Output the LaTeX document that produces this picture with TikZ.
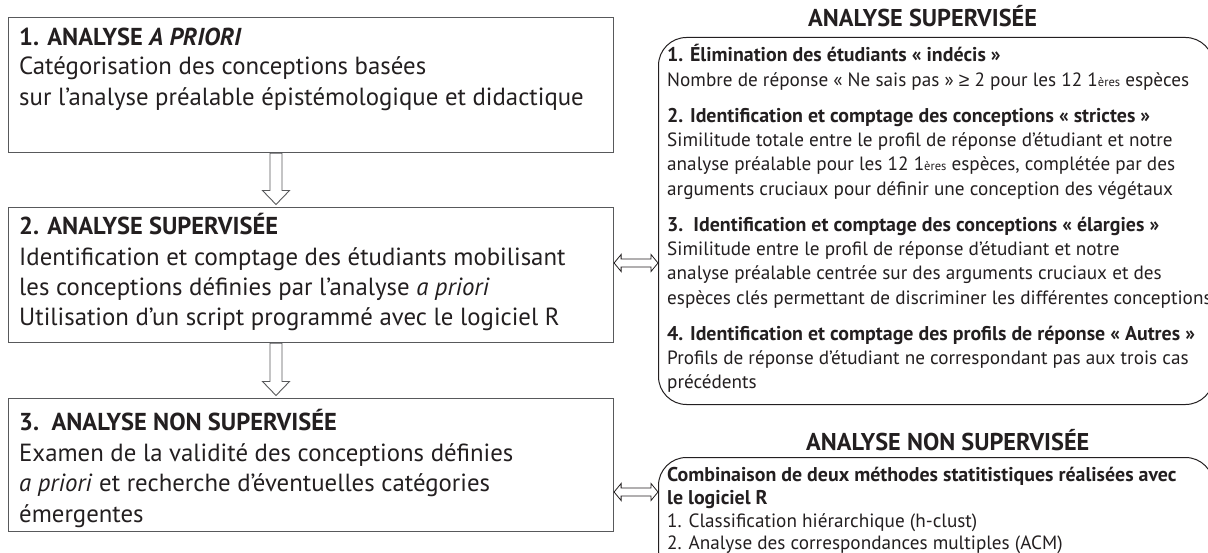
\documentclass[tikz,border=0pt]{standalone}
\usepackage{fontspec}
\setmainfont{PT Sans}
\newfontfamily\symfont{Liberation Sans}
\usetikzlibrary{calc}
\definecolor{ink}{HTML}{231F20}
\definecolor{frame}{HTML}{58595B}
\newcommand\petit[1]{{\fontsize{12.5}{12.5}\selectfont #1}}
\begin{document}
\begin{tikzpicture}[x=1pt,y=-1pt,
  lbox/.style={draw=frame, line width=1.1pt, anchor=north west, minimum width=605pt, inner sep=0pt},
  rbox/.style={draw=ink, line width=1pt, rounded corners=28pt, anchor=north west, minimum width=555pt, inner sep=0pt},
  lhead/.style={anchor=base west, inner sep=0pt, text=ink, font=\fontsize{24.5}{28}\selectfont\bfseries},
  ltext/.style={anchor=base west, inner sep=0pt, text=ink, font=\fontsize{24.8}{28}\selectfont},
  rhead/.style={anchor=base west, inner sep=0pt, text=ink, font=\fontsize{24.3}{26}\selectfont\bfseries},
  rtext/.style={anchor=base west, inner sep=0pt, text=ink, font=\fontsize{19.2}{22}\selectfont},
  rbold/.style={anchor=base west, inner sep=0pt, text=ink, font=\fontsize{19.9}{22}\selectfont\bfseries},
  hollow/.style={draw=frame, line width=0.9pt, fill=white, line join=miter},
  hollowtwo/.style={draw=ink, line width=0.8pt, fill=white, line join=miter},
]
\useasboundingbox (0,0) rectangle (1208,553);
\fill[white] (0,0) rectangle (1208,553);
\clip (0,0) rectangle (1208,553);

% left boxes
\node[lbox, minimum height=135pt] (B1) at (8,17) {};
\node[lbox, minimum height=135pt] (B2) at (8,207) {};
\node[lbox, minimum height=133pt] (B3) at (8,398) {};

\node[lhead] (B1h) at (19,46) {1. ANALYSE \textit{A PRIORI}};
\node[ltext] (B1a) at (19,75) {Catégorisation des conceptions basées};
\node[ltext] (B1b) at (19,106) {sur l’analyse préalable épistémologique et didactique};
\node[lhead] (B2h) at (19,235) {2. ANALYSE SUPERVISÉE};
\node[ltext] (B2a) at (19,266) {Identification et comptage des étudiants mobilisant};
\node[ltext] (B2b) at (19,296) {les conceptions définies par l’analyse \textit{a priori}};
\node[ltext] (B2c) at (19,326) {Utilisation d’un script programmé avec le logiciel R};
\node[lhead] (B3h) at (19,430) {3.\ \ ANALYSE NON SUPERVISÉE};
\node[ltext] (B3a) at (19,461) {Examen de la validité des conceptions définies};
\node[ltext] (B3b) at (19,491) {\textit{a priori} et recherche d’éventuelles catégories};
\node[ltext] (B3c) at (19,522) {émergentes};

% right boxes
\node[rbox, minimum height=367pt] (R1) at (658,37) {};
\node[rbox, minimum height=120pt] (R2) at (658,457) {};
\node[rhead] (R1h) at (808,27) {ANALYSE SUPERVISÉE};
\node[rhead] (R2h) at (806,450) {ANALYSE NON SUPERVISÉE};

\node[rbold] (r1) at (667,62) {1. Élimination des étudiants « indécis »};
\node[rtext] (r2) at (667,86.3) {Nombre de réponse « Ne sais pas » {\symfont ≥} 2 pour les 12 1\petit{ères} espèces};
\node[rbold] (r3) at (667,122.3) {2. Identification et comptage des conceptions « strictes »};
\node[rtext] (r4) at (667,146.6) {Similitude totale entre le profil de réponse d’étudiant et notre};
\node[rtext] (r5) at (667,170.9) {analyse préalable pour les 12 1\petit{ères} espèces, complétée par des};
\node[rtext] (r6) at (667,195.2) {arguments cruciaux pour définir une conception des végétaux};
\node[rbold] (r7) at (667,231.2) {3.\ \ Identification et comptage des conceptions « élargies »};
\node[rtext] (r8) at (667,255.5) {Similitude entre le profil de réponse d’étudiant et notre};
\node[rtext] (r9) at (667,279.8) {analyse préalable centrée sur des arguments cruciaux et des};
\node[rtext] (r10) at (667,304.1) {espèces clés permettant de discriminer les différentes conceptions};
\node[rbold] (r11) at (667,340.1) {4. Identification et comptage des profils de réponse « Autres »};
\node[rtext] (r12) at (667,364.4) {Profils de réponse d’étudiant ne correspondant pas aux trois cas};
\node[rtext] (r13) at (667,388.7) {précédents};

\node[rbold] (s1) at (667,481) {Combinaison de deux méthodes statitistiques réalisées avec};
\node[rbold] (s2) at (667,504) {le logiciel R};
\node[rtext] (s3) at (667,527) {1. Classification hiérarchique (h-clust)};
\node[rtext] (s4) at (667,549) {2. Analyse des correspondances multiples (ACM)};

% down arrows
\coordinate (ax) at (276,0);
\coordinate (S1) at (B1.south -| ax);
\coordinate (T1) at ($(B2.north -| ax)+(0,-2.5)$);
\coordinate (S2) at (B2.south -| ax);
\coordinate (T2) at ($(B3.north -| ax)+(0,-2.5)$);
\foreach \s/\t in {S1/T1,S2/T2}{
  \draw[hollow] ($(\s)+(-6,0)$) -- ($(\t)+(-6,-14)$) -- ($(\t)+(-13.5,-14)$) -- (\t)
    -- ($(\t)+(13.5,-14)$) -- ($(\t)+(6,-14)$) -- ($(\s)+(6,0)$) -- cycle;
}

% double arrows
\coordinate (ay1) at (0,263);
\coordinate (ay2) at (0,492);
\coordinate (L1) at (B2.east |- ay1);
\coordinate (E1) at (R1.west |- ay1);
\coordinate (L2) at (B3.east |- ay2);
\coordinate (E2) at (R2.west |- ay2);
\foreach \l/\r in {L1/E1,L2/E2}{
  \draw[hollowtwo] (\l) -- ($(\l)+(7,-8.5)$) -- ($(\l)+(7,-4)$) -- ($(\r)+(-7,-4)$)
    -- ($(\r)+(-7,-8.5)$) -- (\r) -- ($(\r)+(-7,8.5)$) -- ($(\r)+(-7,4)$)
    -- ($(\l)+(7,4)$) -- ($(\l)+(7,8.5)$) -- cycle;
}
\end{tikzpicture}
\end{document}
